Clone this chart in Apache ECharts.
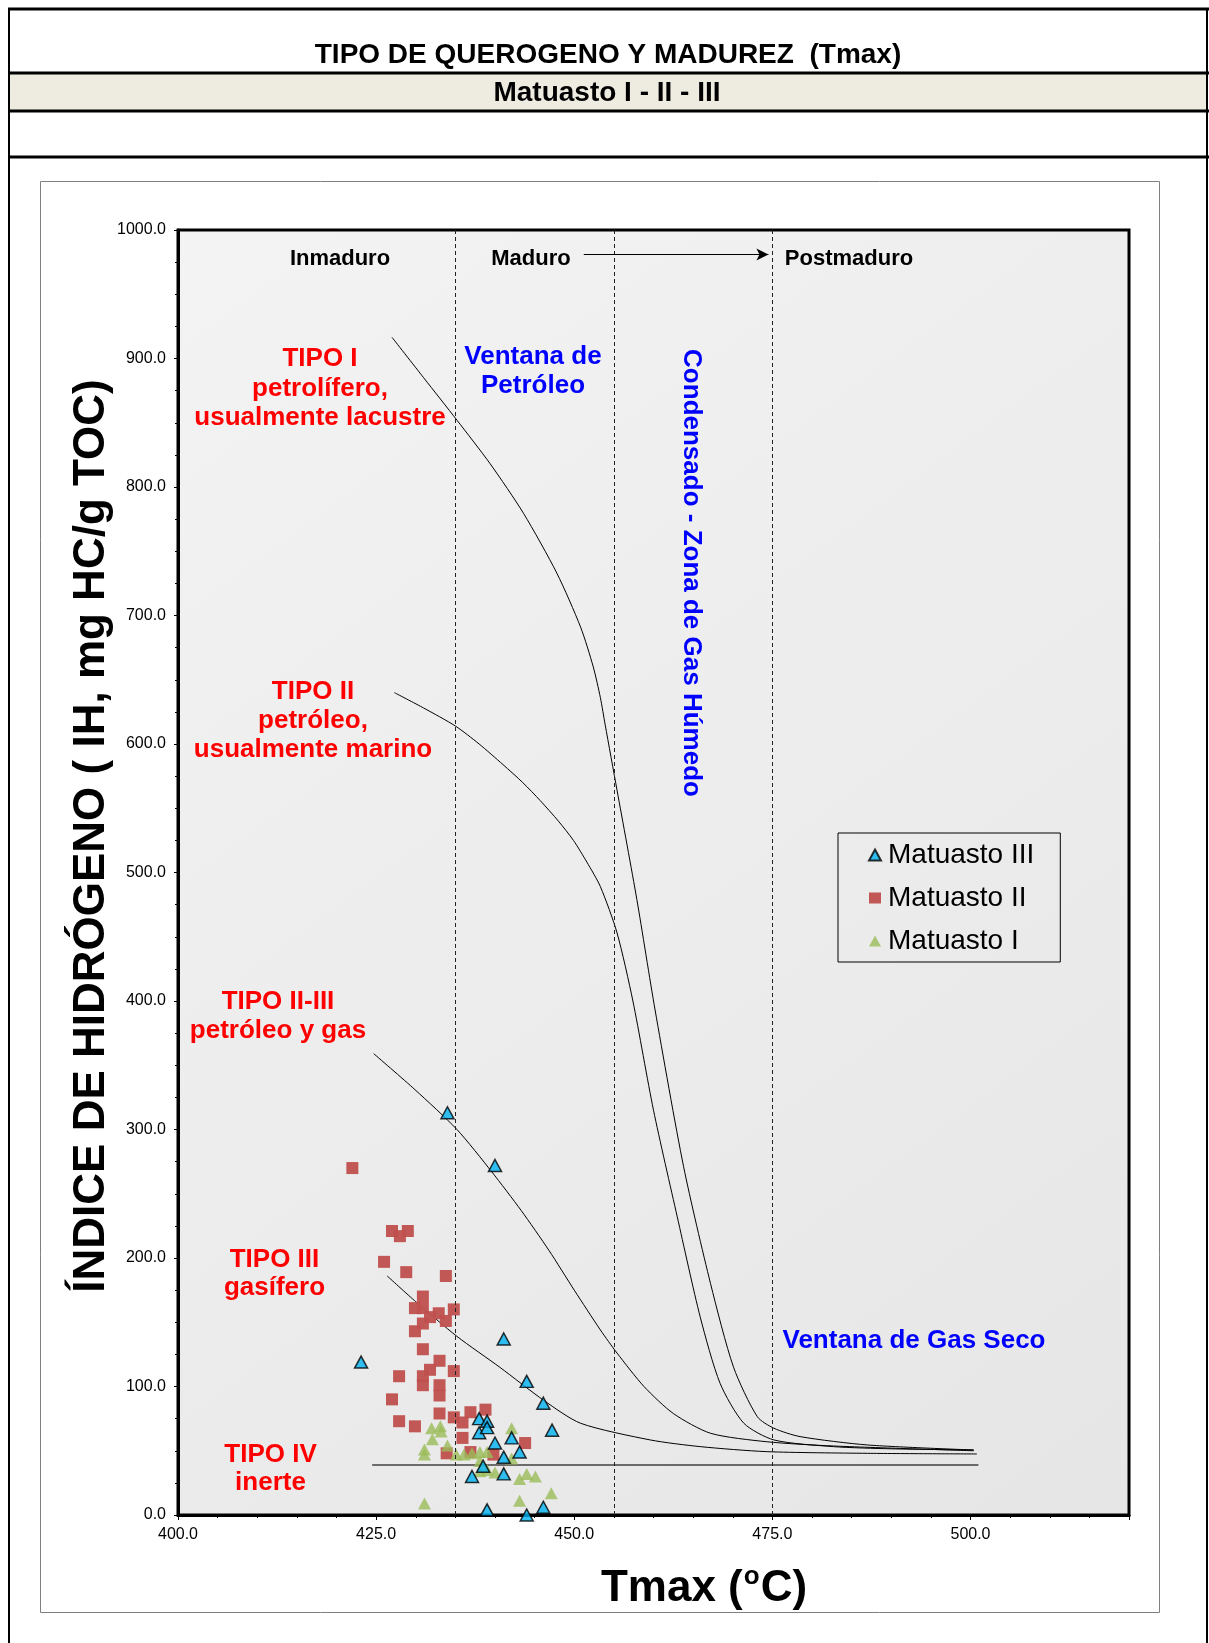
<!DOCTYPE html>
<html><head><meta charset="utf-8">
<script src="https://cdn.jsdelivr.net/npm/echarts@6/dist/echarts.min.js"></script>
<style>html,body{margin:0;padding:0;background:#fff}#c{width:1209px;height:1643px}</style>
</head><body><div id="c"></div>
<script>
const FONT = '"Liberation Sans", Arial, sans-serif';

// ---- data (Tmax °C, IH mg HC/g TOC) ----
const matuastoIII = [[434.0,313],[440.0,272],[423.1,119],[441.1,137],[444.0,104],[446.1,87],[447.2,66],[438.0,75],[439.0,73],[438.0,64],[439.0,68],[440.0,56],[442.1,60],[443.1,49],[441.1,45],[437.1,30],[441.1,32],[438.5,38],[439.0,4],[444.0,0],[446.1,6]];
const matuastoII = [[422,270],[427,221],[428,217],[429,221],[426,197],[428.8,189],[433.8,186],[430.9,170],[429.9,161],[430.9,161],[432.9,157],[434.8,160],[431.8,154],[433.8,151],[430.9,149],[429.9,143],[430.9,129],[433,120],[431.8,113],[434.8,112],[427.9,108],[430.9,108],[430.9,101],[433,101],[433,93],[427,90],[433,79],[434.8,76],[427.9,73],[429.9,69],[435.9,72],[436.9,80],[438.8,82],[435.9,60],[433.9,48],[436.9,49],[439.8,47],[443.8,56]];
const matuastoI = [[432.0,67.5],[433.1,69],[433.2,65],[432.1,59],[431.1,51],[431.1,47],[434.0,54],[435.1,47],[436.1,47],[437.1,48],[438.1,49],[439.0,49],[438.1,42],[442.1,67.5],[442.1,44],[438.1,34],[439.0,35],[440.0,33],[443.1,28],[444.0,32],[445.1,30],[443.1,11],[447.1,17],[431.1,9]];

const curveTipoI = [[427,916.5],[431,885],[435.2,852],[439.4,818],[443.6,779.5],[447.8,733],[450.8,691],[452.4,660],[453.3,636],[453.9,615],[455.4,564],[457.9,479],[460.2,393],[463.8,271],[467.2,180],[470.1,115],[473.1,76.5],[475.2,67.5],[478.5,61],[487,54.5],[500.4,50.6]];
const curveTipoII = [[427.3,640],[431,628],[435,614],[438,600],[441,584],[443.5,570],[445.7,556],[448,540],[449.9,525],[451.6,508],[453.3,489],[455.4,453],[457.4,400],[460,315],[463,232],[465.9,154],[468.4,102.5],[471.4,71.4],[475.2,58.4],[482.7,53.2],[490,51.5],[500.4,50.6]];
const curveTipoIIIII = [[424.7,359],[429.9,331],[435.2,300],[439.6,267],[443.3,237],[446.8,206],[450,175],[453.3,144],[455.4,126],[458.8,100],[462.5,79],[467.2,63.6],[474.3,57],[482.7,53.7],[500.4,50]];
const curveTipoIII = [[426.4,186],[430,166],[435.2,139],[440.6,115],[446.2,89],[450.8,71.4],[459.6,58.4],[465.9,53.2],[474.3,49.3],[487,48],[500.8,47.5]];
const lineTipoIV = [[424.5,39],[501,39]];
const maturityLimits = [435, 455, 475];
const arrowPath = [[451.2,981],[474.5,981]];

const xRange = {min: 400, max: 520, interval: 25};
const yRange = {min: 0, max: 1000, interval: 100};
const legendNames = ['Matuasto III', 'Matuasto II', 'Matuasto I'];

const chart = echarts.init(document.getElementById('c'), null, {renderer: 'canvas'});

function curve(data) {
  return {type: 'line', data: data, symbol: 'none', showSymbol: false, silent: true,
    smooth: 0.25, z: 2,
    lineStyle: {color: '#000', width: 1}};
}
function txt(x, y, text, size, color, extra, lh) {
  const el = {type: 'text', x: x, y: y, z: 100, silent: true,
    style: {text: text, fontFamily: FONT, fontSize: size, fontWeight: 'bold', fill: color,
      align: 'center', verticalAlign: 'middle', lineHeight: lh || Math.round(size * 1.16)}};
  return Object.assign(el, extra || {});
}

const option = {
  animation: false,
  backgroundColor: '#fff',
  grid: {left: 178, top: 230, width: 951, height: 1285, containLabel: false, show: true,
    borderColor: '#000', borderWidth: 3,
    backgroundColor: new echarts.graphic.LinearGradient(0, 0, 1, 1, [
      {offset: 0, color: '#F3F3F3'}, {offset: 1, color: '#E6E6E6'}])},
  xAxis: {type: 'value', min: xRange.min, max: xRange.max, interval: xRange.interval,
    axisLine: {show: true, lineStyle: {color: '#000', width: 3}},
    axisTick: {show: true, length: 5, lineStyle: {color: '#000', width: 1}},
    minorTick: {show: true, splitNumber: 5, length: 3, lineStyle: {color: '#000', width: 1}},
    splitLine: {show: false},
    axisLabel: {formatter: v => v.toFixed(1), fontFamily: FONT, fontSize: 16, color: '#000', margin: 12, showMaxLabel: false}},
  yAxis: {type: 'value', min: yRange.min, max: yRange.max, interval: yRange.interval,
    axisLine: {show: true, lineStyle: {color: '#000', width: 3}},
    axisTick: {show: true, length: 4, lineStyle: {color: '#000', width: 1}},
    minorTick: {show: true, splitNumber: 4, length: 3, lineStyle: {color: '#000', width: 1}},
    splitLine: {show: false},
    axisLabel: {formatter: v => v.toFixed(1), fontFamily: FONT, fontSize: 16, color: '#000', margin: 12}},
  legend: {data: legendNames, orient: 'vertical', left: 838, top: 833,
    padding: [8, 26, 7, 30], itemGap: 15, itemWidth: 12, itemHeight: 11,
    borderColor: '#000', borderWidth: 1, backgroundColor: 'rgba(0,0,0,0)',
    textStyle: {fontFamily: FONT, fontSize: 28, color: '#000', lineHeight: 28, padding: [0, 0, 0, 2]}},
  series: [
    curve(curveTipoI), curve(curveTipoII), curve(curveTipoIIIII), curve(curveTipoIII),
    {type: 'line', data: lineTipoIV, symbol: 'none', silent: true, z: 2,
      lineStyle: {color: '#404040', width: 1.5},
      markLine: {silent: true, symbol: 'none', label: {show: false},
        data: maturityLimits.map(v => ({xAxis: v, lineStyle: {color: '#222', width: 1, type: [4, 3]}}))
          .concat([[{coord: arrowPath[0], symbol: 'none'}, {coord: arrowPath[1], symbol: 'arrow', symbolSize: [9, 12],
            lineStyle: {color: '#000', width: 1, type: 'solid'}}]])}},
    {name: 'Matuasto II', type: 'scatter', data: matuastoII, symbol: 'rect', symbolSize: 12, z: 3,
      itemStyle: {color: '#C0504D', opacity: 0.95}},
    {name: 'Matuasto I', type: 'scatter', data: matuastoI, symbol: 'triangle', symbolSize: [13, 12], z: 4,
      itemStyle: {color: '#9BBB59'}},
    {name: 'Matuasto III', type: 'scatter', data: matuastoIII, symbol: 'triangle', symbolSize: [13, 12], z: 5,
      itemStyle: {color: '#00B0F0', borderColor: '#000', borderWidth: 1.5}}
  ],
  graphic: [
    // header frame
    {type: 'rect', z: -1, silent: true, shape: {x: 9, y: 73, width: 1198, height: 38}, style: {fill: '#EEECE1'}},
    {type: 'line', silent: true, shape: {x1: 8, y1: 9, x2: 1209, y2: 9}, style: {stroke: '#000', lineWidth: 3}},
    {type: 'line', silent: true, shape: {x1: 8, y1: 73, x2: 1209, y2: 73}, style: {stroke: '#000', lineWidth: 3}},
    {type: 'line', silent: true, shape: {x1: 8, y1: 111, x2: 1209, y2: 111}, style: {stroke: '#000', lineWidth: 3}},
    {type: 'line', silent: true, shape: {x1: 8, y1: 157, x2: 1209, y2: 157}, style: {stroke: '#000', lineWidth: 3}},
    {type: 'line', silent: true, shape: {x1: 9, y1: 8, x2: 9, y2: 1643}, style: {stroke: '#000', lineWidth: 2}},
    {type: 'line', silent: true, shape: {x1: 1207, y1: 8, x2: 1207, y2: 1643}, style: {stroke: '#000', lineWidth: 2}},
    {type: 'rect', silent: true, shape: {x: 40.5, y: 181.5, width: 1119, height: 1431}, style: {fill: null, stroke: '#808080', lineWidth: 1}},
    txt(608, 55, 'TIPO DE QUEROGENO Y MADUREZ  (Tmax)', 28, '#000'),
    txt(607, 93, 'Matuasto I - II - III', 28, '#000'),
    // axis titles
    txt(92, 836, 'ÍNDICE DE HIDRÓGENO ( IH, mg HC/g TOC)', 44, '#000', {rotation: Math.PI / 2}),
    {type: 'text', x: 704, y: 1589, z: 100, silent: true,
      style: {text: '{a|Tmax (}{s|o}{a|C)}', align: 'center', verticalAlign: 'middle',
        rich: {a: {fontFamily: FONT, fontSize: 44, fontWeight: 'bold', fill: '#000', lineHeight: 50},
               s: {fontFamily: FONT, fontSize: 26, fontWeight: 'bold', fill: '#000', verticalAlign: 'top', lineHeight: 50, padding: [0, 1, 18, 1]}}}},
    // maturity labels
    txt(340, 259, 'Inmaduro', 22, '#000'),
    txt(531, 259, 'Maduro', 22, '#000'),
    txt(849, 259, 'Postmaduro', 22, '#000'),
    // blue zones
    txt(533, 371, 'Ventana de\nPetróleo', 26, '#0000FF', null, 29),
    txt(691, 573, 'Condensado - Zona de Gas Húmedo', 26, '#0000FF', {rotation: -Math.PI / 2}),
    txt(914, 1341, 'Ventana de Gas Seco', 26, '#0000FF'),
    // kerogen types
    txt(320, 388.5, 'TIPO I\npetrolífero,\nusualmente lacustre', 26, '#FF0000', null, 29.5),
    txt(313, 721, 'TIPO II\npetróleo,\nusualmente marino', 26, '#FF0000', null, 29),
    txt(278, 1016, 'TIPO II-III\npetróleo y gas', 26, '#FF0000', null, 29),
    txt(274.5, 1273.5, 'TIPO III\ngasífero', 26, '#FF0000', null, 28),
    txt(270.5, 1469, 'TIPO IV\ninerte', 26, '#FF0000', null, 28)
  ]
};
chart.setOption(option);
</script>
</body></html>
